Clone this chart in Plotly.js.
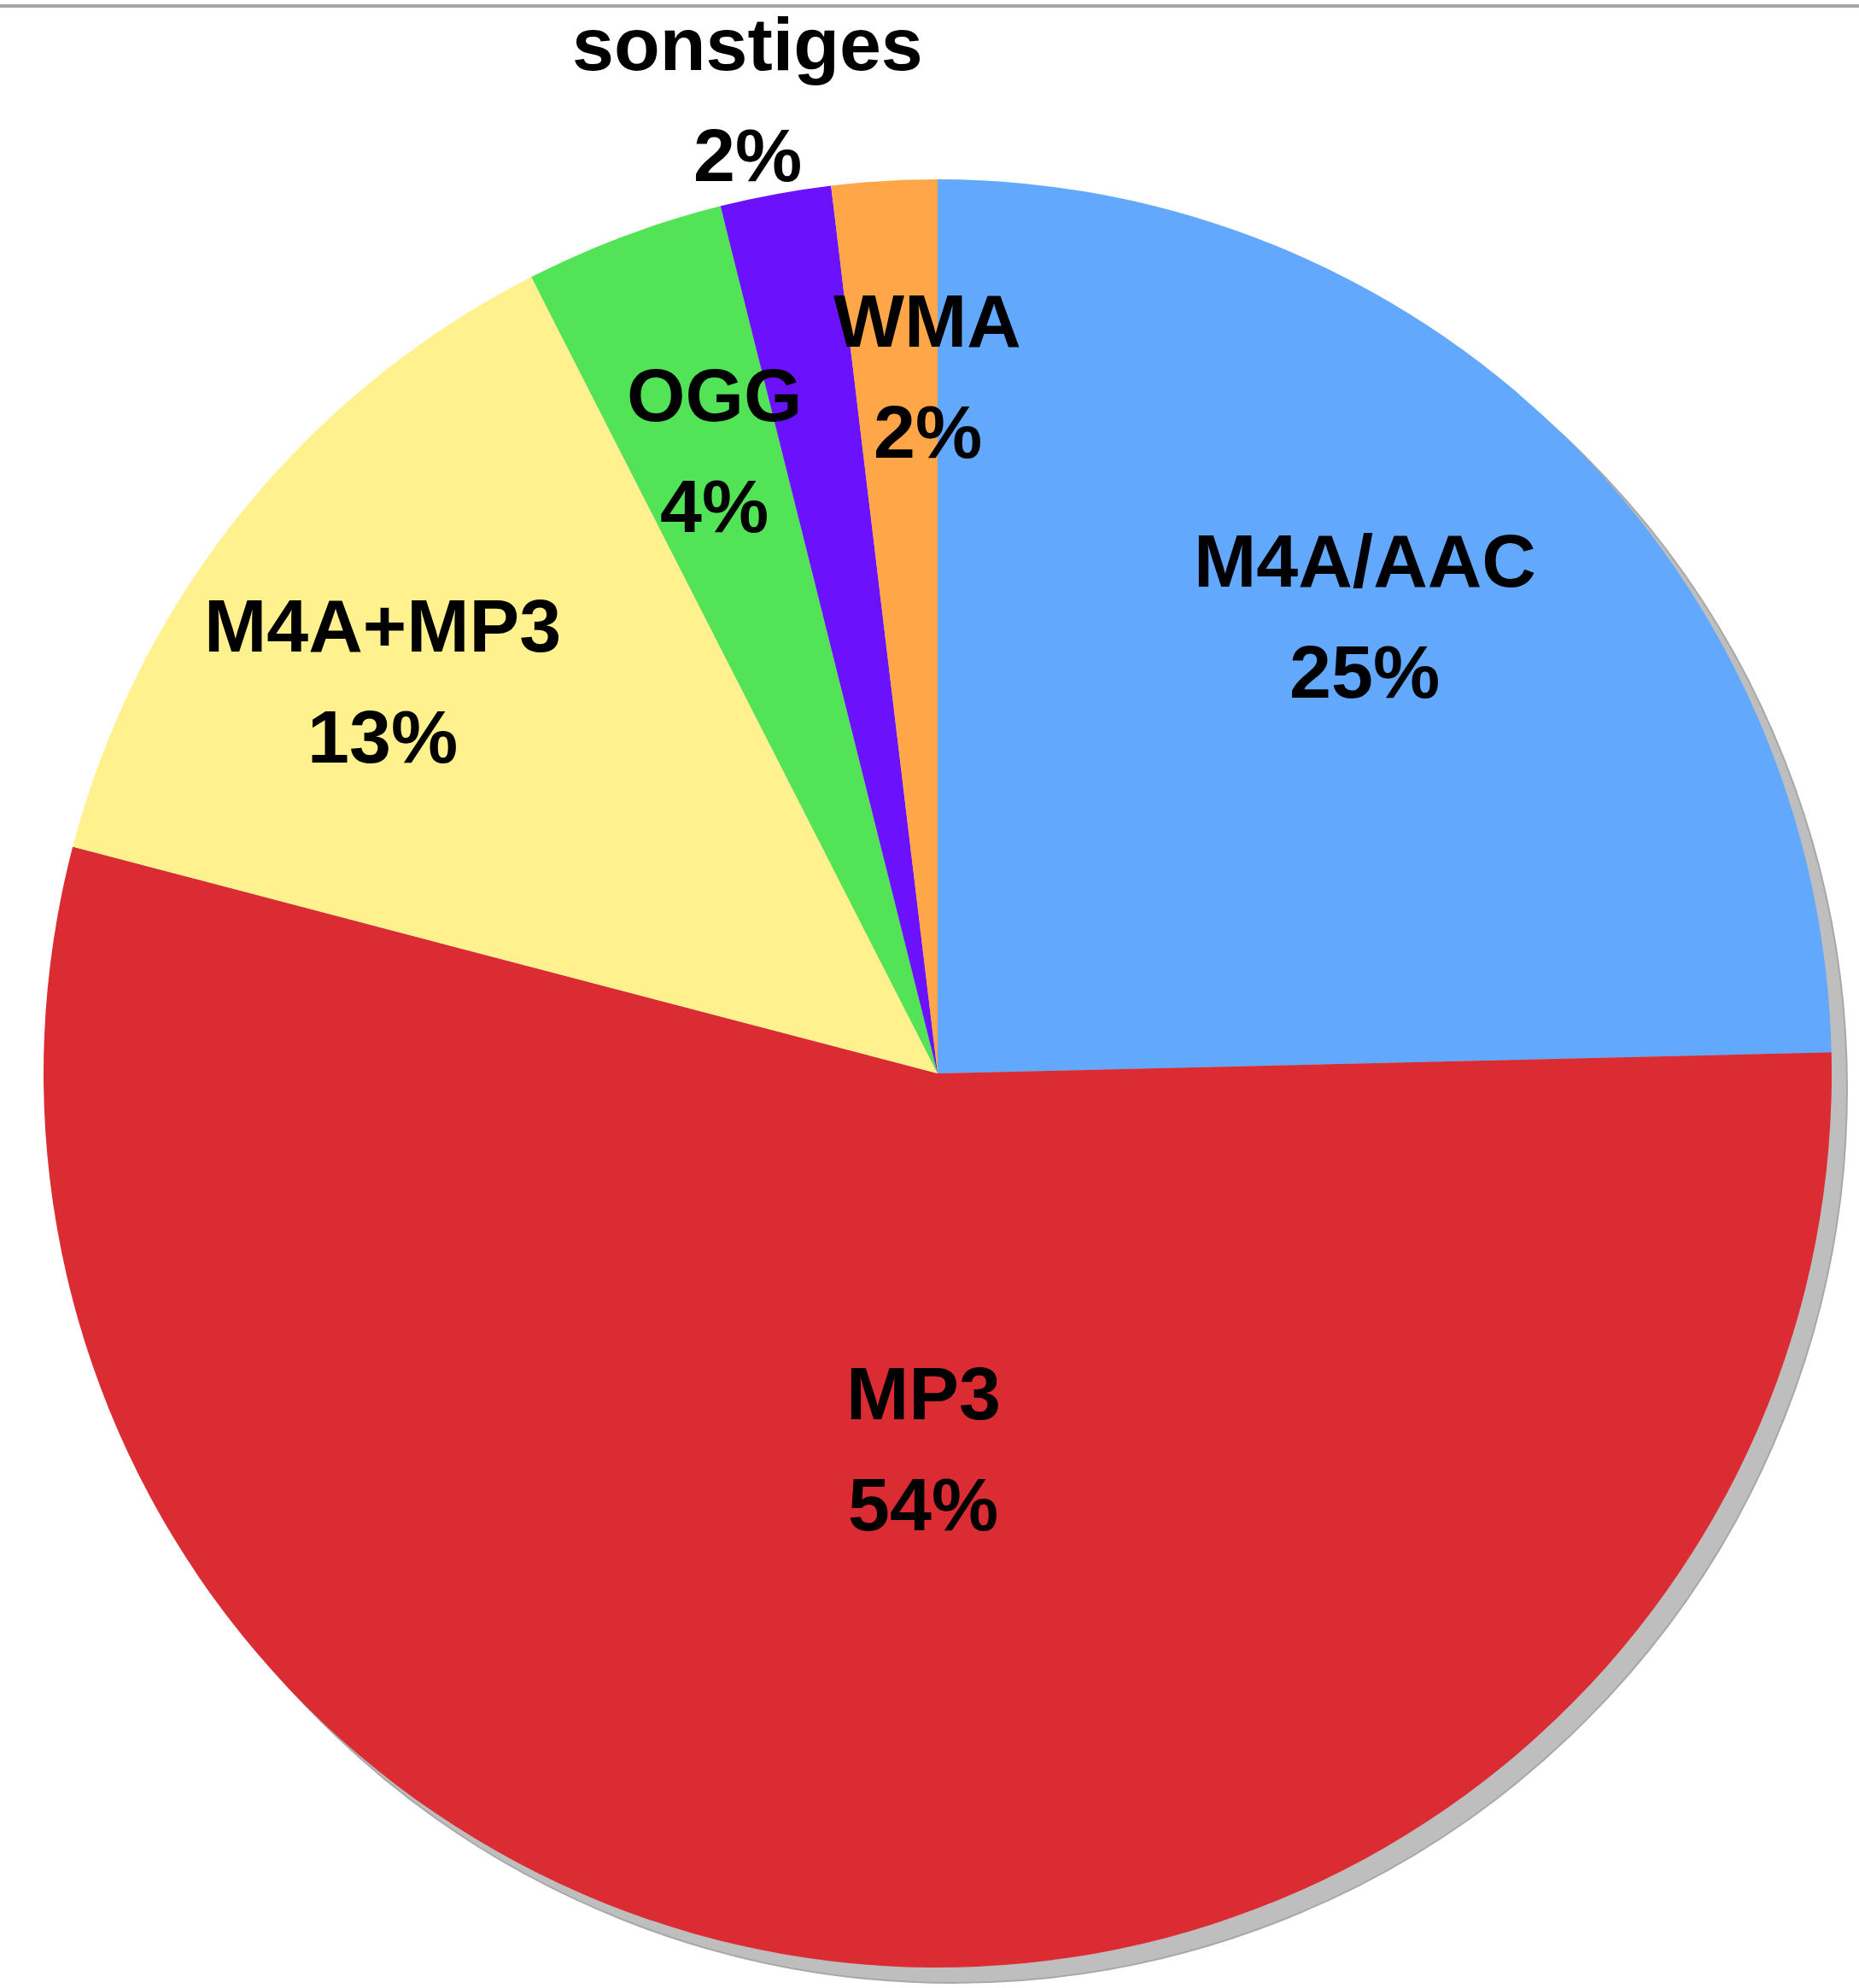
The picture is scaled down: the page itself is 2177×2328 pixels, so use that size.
<!DOCTYPE html>
<html>
<head>
<meta charset="utf-8">
<script src="https://cdn.plot.ly/plotly-3.0.1.min.js"></script>
<style>
  html, body { margin: 0; padding: 0; background: #ffffff; }
  #chart { width: 2177px; height: 2328px; }
</style>
</head>
<body>
<div id="chart"></div>
<script>
// ---- data ----
const labels = ['M4A/AAC', 'MP3', 'M4A+MP3', 'OGG', 'sonstiges', 'WMA'];
const values = [24.6, 54.4, 13.4, 3.6, 2.0, 1.9];

// ---- styles ----
const sliceColors = ['#62A8FC', '#DC2C33', '#FFF28E', '#52E357', '#6B11FC', '#FFA648'];
const labelRadius = [0.70, 0.42, 0.76, 0.74, 1.11, 0.78];
const labelAngleShift = [-1.3, -4.5, -3.6, 0.8, -0.6, 2.6];
const labelFont = { family: 'Liberation Sans, Arial, sans-serif', size: 88, color: '#000000', weight: 'bold' };

const W = 2177, H = 2328;
const cx = 1098, cy = 1257, R = 1047;
const shadowOffset = 18;

const dom = {
  x: [(cx - R) / W, (cx + R) / W],
  y: [(H - cy - R) / H, (H - cy + R) / H]
};
const shadowDom = {
  x: [(cx - R + shadowOffset) / W, (cx + R + shadowOffset) / W],
  y: [(H - cy - R - shadowOffset) / H, (H - cy + R - shadowOffset) / H]
};

const shadow = {
  type: 'pie',
  values: [1],
  labels: ['shadow'],
  domain: shadowDom,
  marker: { colors: ['#BEBEBE'], line: { color: '#A8A8A8', width: 2 } },
  textinfo: 'none',
  textposition: 'none',
  hoverinfo: 'skip',
  showlegend: false,
  sort: false
};

const pie = {
  type: 'pie',
  labels: labels,
  values: values,
  domain: dom,
  sort: false,
  direction: 'clockwise',
  rotation: 0,
  marker: { colors: sliceColors, line: { width: 0 } },
  textinfo: 'none',
  textposition: 'none',
  hoverinfo: 'label+percent',
  showlegend: false
};

// annotations: labels placed at slice mid angles
const total = values.reduce((a, b) => a + b, 0);
const annotations = [];
let cum = 0;
const lineGap = 65;
values.forEach((v, i) => {
  const frac = v / total;
  const mid = (cum + frac / 2) * 360 + labelAngleShift[i];
  cum += frac;
  const a = mid * Math.PI / 180;
  const px = cx + Math.sin(a) * R * labelRadius[i];
  const py = cy - Math.cos(a) * R * labelRadius[i];
  const pct = Math.round(frac * 100) + '%';
  annotations.push({
    text: labels[i], xref: 'paper', yref: 'paper',
    x: px / W, y: 1 - (py - lineGap) / H,
    xanchor: 'center', yanchor: 'middle', showarrow: false, font: labelFont
  });
  annotations.push({
    text: pct, xref: 'paper', yref: 'paper',
    x: px / W, y: 1 - (py + lineGap) / H,
    xanchor: 'center', yanchor: 'middle', showarrow: false, font: labelFont
  });
});

const layout = {
  width: W,
  height: H,
  margin: { l: 0, r: 0, t: 0, b: 0 },
  paper_bgcolor: '#ffffff',
  plot_bgcolor: '#ffffff',
  showlegend: false,
  annotations: annotations,
  shapes: [{
    type: 'line', xref: 'paper', yref: 'paper',
    x0: 0, x1: 1, y0: 1 - 7 / H, y1: 1 - 7 / H,
    line: { color: '#A6A6A6', width: 4 }
  }]
};

Plotly.newPlot('chart', [shadow, pie], layout, { staticPlot: true, displayModeBar: false });
</script>
</body>
</html>
